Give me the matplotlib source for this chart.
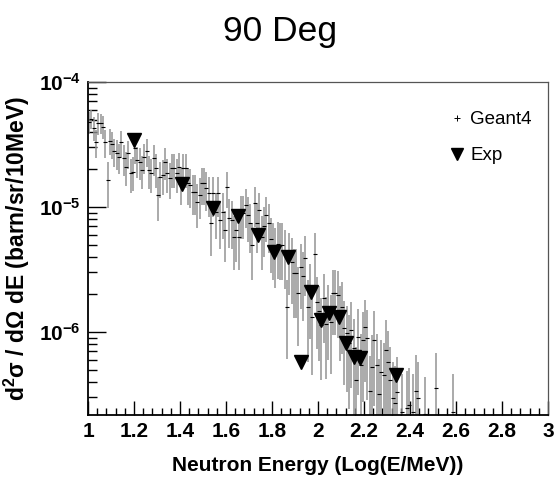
import numpy as np
import matplotlib
matplotlib.use("Agg")
import matplotlib.pyplot as plt
from matplotlib.lines import Line2D
from matplotlib.ticker import FixedLocator, FixedFormatter, NullFormatter

plt.rcParams['font.family'] = ['Liberation Sans', 'DejaVu Sans']
plt.rcParams['mathtext.fontset'] = 'custom'
plt.rcParams['mathtext.rm'] = 'Liberation Sans'
plt.rcParams['mathtext.bf'] = 'Liberation Sans:bold'

# ---------------- data ----------------
title = "90 Deg"
x_label = "Neutron Energy (Log(E/MeV))"
y_label = r"d$^{\mathbf{2}}$σ / dΩ dE (barn/sr/10MeV)"

# Geant4: bin centres (log10 E) and values, relative errors
g4_x_start = 1.005
g4_bin = 0.01
g4_y_dense = [
    4.8e-5, 5.1e-5, 4.3e-5, 3.3e-5, 4.7e-5, 4.7e-5, 4.4e-5, 3.3e-5, 1.64e-5, 3.4e-5,
    3.2e-5, 2.8e-5, 2.7e-5, 2.5e-5, 3.3e-5, 2.45e-5, 2.1e-5, 2.7e-5, 1.86e-5, 1.92e-5,
    2.95e-5, 2.38e-5, 2.3e-5, 1.98e-5, 2.5e-5, 2.8e-5, 1.98e-5, 1.86e-5, 2.45e-5, 2.04e-5,
    1.25e-5, 1.75e-5, 1.8e-5, 2.3e-5, 1.86e-5, 1.7e-5, 2.04e-5, 2.04e-5, 1.86e-5, 2.1e-5,
    1.55e-5, 2.04e-5, 2.04e-5, 1.55e-5, 1.5e-5, 1.33e-5, 1.33e-5, 1.1e-5, 1.25e-5, 1.55e-5,
    1.55e-5, 1.41e-5, 1.29e-5, 7.4e-6, 1.29e-5, 9.2e-6, 1.29e-5, 7.9e-6, 9.2e-6, 6.5e-6,
    1.45e-5, 8.1e-6, 7.9e-6, 5.8e-6, 6.5e-6, 5.8e-6, 8.9e-6, 8.9e-6, 1.04e-5, 8.6e-6,
    7.4e-6, 5.0e-6, 1.07e-5, 7.4e-6, 9.5e-6, 5.8e-6, 7.0e-6, 8.6e-6, 7.4e-6, 5.6e-6,
    5.0e-6, 4.5e-6, 5.1e-6, 5.0e-6, 5.0e-6, 4.4e-6, 1.6e-6, 4.1e-6, 3.65e-6, 2.95e-6,
    2.95e-6, 2.04e-6, 3.3e-6, 2.8e-6, 3.9e-6, 1.6e-6, 2.2e-6, 1.33e-6, 4.2e-6,
    1.75e-6, 1.46e-6, 1.14e-6, 1.86e-6, 1.17e-6, 1.5e-6, 1.21e-6, 2.04e-6, 2.04e-6, 1.98e-6,
    1.46e-6, 1.6e-6, 1.07e-6, 9.8e-7, 8.1e-7, 1.04e-6, 7.4e-7, 4.1e-7, 9.2e-7, 5.4e-7,
    8.6e-7, 1.1e-6, 8.9e-7, 3.4e-7, 5.3e-7, 8.6e-7, 5.4e-7, 3.2e-7, 4.8e-7, 4.5e-7,
    7.2e-7,
]
g4_rel_dense = [
    0.20, 0.18, 0.22, 0.25, 0.20, 0.19, 0.21, 0.25, 0.40, 0.24,
    0.24, 0.26, 0.27, 0.27, 0.24, 0.28, 0.30, 0.26, 0.31, 0.30,
    0.25, 0.28, 0.28, 0.30, 0.27, 0.26, 0.30, 0.31, 0.28, 0.30,
    0.38, 0.32, 0.31, 0.28, 0.31, 0.32, 0.30, 0.30, 0.31, 0.29,
    0.33, 0.30, 0.30, 0.33, 0.34, 0.35, 0.35, 0.38, 0.36, 0.33,
    0.33, 0.34, 0.35, 0.45, 0.35, 0.40, 0.35, 0.42, 0.40, 0.44,
    0.32, 0.42, 0.42, 0.46, 0.44, 0.46, 0.38, 0.38, 0.35, 0.39,
    0.42, 0.48, 0.35, 0.42, 0.37, 0.46, 0.43, 0.39, 0.42, 0.47,
    0.48, 0.50, 0.48, 0.48, 0.48, 0.50, 0.62, 0.52, 0.54, 0.56,
    0.56, 0.62, 0.54, 0.56, 0.50, 0.64, 0.60, 0.66, 0.48,
    0.58, 0.60, 0.64, 0.56, 0.64, 0.60, 0.62, 0.54, 0.54, 0.55,
    0.60, 0.58, 0.65, 0.66, 0.70, 0.66, 0.72, 0.85, 0.66, 0.78,
    0.68, 0.64, 0.68, 0.88, 0.78, 0.70, 0.78, 0.90, 0.80, 0.82,
    0.72,
]
g4_x_tail = [2.305, 2.315, 2.325, 2.335, 2.345, 2.365, 2.385, 2.395, 2.415, 2.425,
             2.435, 2.465, 2.515, 2.585]
g4_y_tail = [5.8e-7, 4.1e-7, 2.95e-7, 2.7e-7, 3.3e-7, 2.3e-7, 2.45e-7, 2.6e-7, 2.3e-7, 3.4e-7,
             2.95e-7, 2.2e-7, 3.6e-7, 2.3e-7]
g4_rel_tail = [0.76, 0.85, 0.95, 0.98, 0.92, 1.0, 1.0, 0.98, 1.0, 0.92,
               0.95, 1.0, 0.9, 1.0]

# Experiment
exp_x = [1.200, 1.409, 1.543, 1.652, 1.739, 1.809, 1.870, 1.926, 1.970, 2.012,
         2.048, 2.091, 2.122, 2.157, 2.183, 2.339]
exp_y = [3.43e-5, 1.53e-5, 9.8e-6, 8.5e-6, 5.97e-6, 4.36e-6, 3.98e-6, 5.8e-7, 2.1e-6, 1.25e-6,
         1.41e-6, 1.33e-6, 8.2e-7, 6.35e-7, 6.2e-7, 4.53e-7]

x_ticks = [1.0, 1.2, 1.4, 1.6, 1.8, 2.0, 2.2, 2.4, 2.6, 2.8, 3.0]
x_tick_labels = ["1", "1.2", "1.4", "1.6", "1.8", "2", "2.2", "2.4", "2.6", "2.8", "3"]
y_ticks = [1e-6, 1e-5, 1e-4]
y_tick_labels = [r"$\mathbf{10^{-6}}$", r"$\mathbf{10^{-5}}$", r"$\mathbf{10^{-4}}$"]
x_range = (1.0, 3.0)
y_range = (2.17e-7, 1e-4)

# ---------------- derived ----------------
g4_x = np.concatenate([g4_x_start + g4_bin * np.arange(len(g4_y_dense)), np.array(g4_x_tail)])
g4_y = np.array(g4_y_dense + g4_y_tail)
g4_rel = np.array(g4_rel_dense + g4_rel_tail)
g4_err = g4_y * g4_rel
g4_lo = np.minimum(g4_err, g4_y * 0.999999)

# ---------------- figure ----------------
fig = plt.figure(figsize=(5.6, 4.83), dpi=100)
ax = fig.add_axes([88 / 560, 1 - 415 / 483, (548 - 88) / 560, (415 - 82) / 483])

ax.set_yscale('log', nonpositive='clip')
ax.errorbar(g4_x, g4_y, yerr=[g4_lo, g4_err], fmt='none', ecolor='#939393',
            elinewidth=1.1, capsize=0, zorder=2)
ax.plot(g4_x, g4_y, linestyle='none', marker='_', color='black', markersize=3,
        markeredgewidth=0.8, zorder=3)
ax.plot(exp_x, exp_y, linestyle='none', marker='v', color='black', markersize=10.5, zorder=4)

ax.set_xlim(*x_range)
ax.set_ylim(*y_range)

ax.xaxis.set_major_locator(FixedLocator(x_ticks))
ax.xaxis.set_major_formatter(FixedFormatter(x_tick_labels))
ax.xaxis.set_minor_locator(FixedLocator(np.arange(1.0, 3.0001, 0.04)))
ax.yaxis.set_major_locator(FixedLocator(y_ticks))
ax.yaxis.set_major_formatter(FixedFormatter(y_tick_labels))
minors = [m * 10.0 ** e for e in (-7, -6, -5) for m in range(2, 10)]
ax.yaxis.set_minor_locator(FixedLocator(minors))
ax.yaxis.set_minor_formatter(NullFormatter())

ax.tick_params(axis='both', which='both', direction='in', top=False, right=False, color='black')
ax.tick_params(axis='x', which='major', length=10, width=1, pad=5, labelsize=15)
ax.tick_params(axis='x', which='minor', length=5, width=1)
ax.tick_params(axis='y', which='major', length=13, width=1, pad=5, labelsize=15)
ax.tick_params(axis='y', which='minor', length=6.5, width=1)
for lbl in ax.get_xticklabels():
    lbl.set_fontweight('bold')
for side in ('left', 'bottom'):
    ax.spines[side].set_linewidth(1.3)
for side in ('top', 'right'):
    ax.spines[side].set_linewidth(0.9)
    ax.spines[side].set_color('#555555')

ax.set_xlabel(x_label, fontsize=15, fontweight='bold', labelpad=11)
ax.set_ylabel(y_label, fontsize=16.5, fontweight='bold', labelpad=5)

fig.text(0.5, 1 - 32 / 483, title, ha='center', va='center', fontsize=25.5)

handles = [Line2D([], [], linestyle='none', marker='+', color='black', markersize=5, markeredgewidth=0.7),
           Line2D([], [], linestyle='none', marker='v', color='black', markersize=9)]
ax.legend(handles, ["Geant4", "Exp"], loc='upper left', bbox_to_anchor=(0.77, 0.935),
          frameon=False, fontsize=13.5, handlelength=0.8, handletextpad=0.3,
          labelspacing=1.0, borderaxespad=0)

fig.savefig("out.png", dpi=100)
